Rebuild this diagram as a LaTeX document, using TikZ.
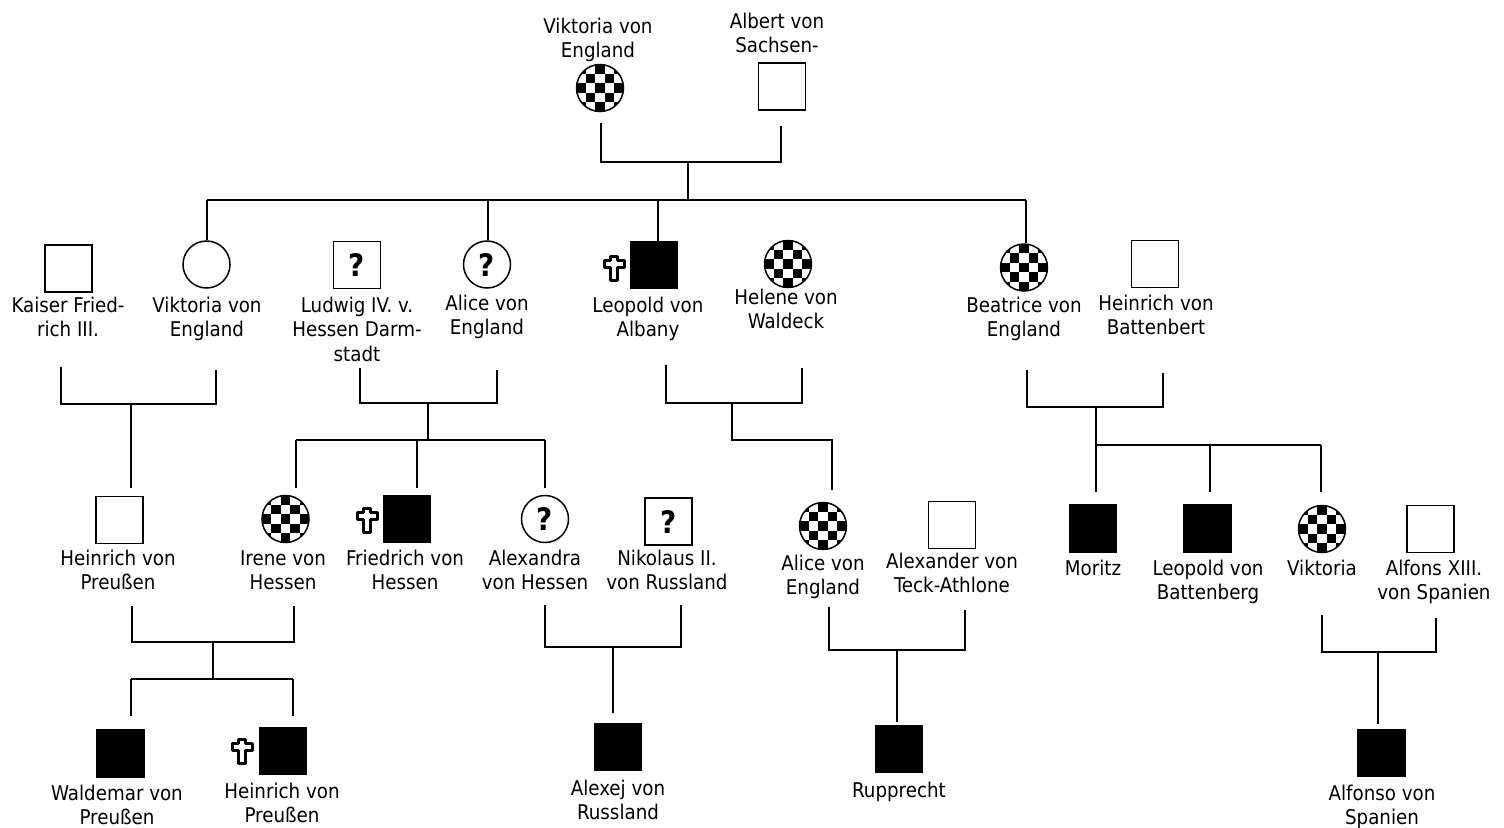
\documentclass[tikz,border=0pt]{standalone}
\usepackage{fontspec}
\setmainfont{DejaVu Sans Condensed}
\newcommand\nm[1]{\begin{tabular}[t]{@{}c@{}}#1\end{tabular}}
\begin{document}
\begin{tikzpicture}[x=1pt,y=-1pt,
  sym/.style={draw, line width=1.5pt, minimum size=47pt, inner sep=0pt},
  male/.style={sym, rectangle},
  female/.style={sym, circle},
  aff/.style={fill=black},
  unk/.style={font=\fontsize{31}{31}\selectfont\bfseries},
  carrier/.style={female, path picture={
    \foreach \i in {-2,...,2}{\foreach \j in {-2,...,2}{
      \pgfmathtruncatemacro\s{mod(\i+\j+10,2)}
      \ifnum\s=0
        \fill[black] ([shift={(\i*9.4pt-4.7pt,\j*9.4pt-4.7pt)}]path picture bounding box.center) rectangle +(9.4pt,9.4pt);
      \fi}}}},
  lbl/.style={anchor=base, inner sep=0pt, font=\fontsize{20.3}{24.5}\selectfont},
  ln/.style={line width=1.8pt},
  thinln/.style={line width=1.3pt},
  deathcross/.pic={\draw[line width=3pt, line join=round, fill=white]
     (-3.9,-12)--(3.9,-12)--(3.9,-7.6)--(10,-7.6)--(10,-0.8)--(3.9,-0.8)--(3.9,12)
     --(-3.9,12)--(-3.9,-0.8)--(-10,-0.8)--(-10,-7.6)--(-3.9,-7.6)--cycle;}
]
\useasboundingbox (0,0) rectangle (1504,827);
\fill[white] (0,0) rectangle (1504,827);

% ---- generation 0
\node[carrier] (vic) at (600,88) {};
\node[male] (alb) at (782,86.5) {};
\node[lbl] (vicT) at (598,33) {\nm{Viktoria von\\England}};
\node[lbl] (albT) at (777,28) {\nm{Albert von\\Sachsen-}};

% ---- generation 1
\node[male] (kai) at (68.5,268.5) {};
\node[female] (vik) at (206.5,264.5) {};
\node[male,unk] (lud) at (357,265) {?};
\node[female,unk] (ali) at (487,264.5) {?};
\node[male,aff] (leo) at (654,265) {};
\node[carrier] (hel) at (788,264) {};
\node[carrier] (bea) at (1024,267.5) {};
\node[male] (hei) at (1155,264) {};
\pic at (614,268) {deathcross};

\node[lbl] (kaiT) at (68,312) {\nm{Kaiser Fried-\\rich III.}};
\node[lbl] (vikT) at (207,312) {\nm{Viktoria von\\England}};
\node[lbl] (ludT) at (357,312) {\nm{Ludwig IV. v.\\Hessen Darm-\\stadt}};
\node[lbl] (aliT) at (487,310) {\nm{Alice von\\England}};
\node[lbl] (leoT) at (648,312) {\nm{Leopold von\\Albany}};
\node[lbl] (helT) at (786,304) {\nm{Helene von\\Waldeck}};
\node[lbl] (beaT) at (1024,312) {\nm{Beatrice von\\England}};
\node[lbl] (heiT) at (1156,310) {\nm{Heinrich von\\Battenbert}};

% ---- generation 2
\node[male] (hpr) at (119.5,520) {};
\node[carrier] (ire) at (285.5,519) {};
\node[male,aff] (fri) at (407,519) {};
\node[female,unk] (alx) at (545,519) {?};
\node[male,unk] (nik) at (668.5,521.5) {?};
\node[carrier] (alc) at (823,526) {};
\node[male] (atk) at (952,525) {};
\node[male,aff] (mor) at (1093,528.5) {};
\node[male,aff] (lpb) at (1207.5,528.5) {};
\node[carrier] (vkt) at (1322,529) {};
\node[male] (alf) at (1430.5,529) {};
\pic at (367,520) {deathcross};

\node[lbl] (hprT) at (118,565) {\nm{Heinrich von\\Preußen}};
\node[lbl] (ireT) at (283,565) {\nm{Irene von\\Hessen}};
\node[lbl] (friT) at (405,565) {\nm{Friedrich von\\Hessen}};
\node[lbl] (alxT) at (535,565) {\nm{Alexandra\\von Hessen}};
\node[lbl] (nikT) at (667,565) {\nm{Nikolaus II.\\von Russland}};
\node[lbl] (alcT) at (823,570) {\nm{Alice von\\England}};
\node[lbl] (atkT) at (952,568) {\nm{Alexander von\\Teck-Athlone}};
\node[lbl] (morT) at (1093,575) {\nm{Moritz}};
\node[lbl] (lpbT) at (1208,575) {\nm{Leopold von\\Battenberg}};
\node[lbl] (vktT) at (1322,575) {\nm{Viktoria}};
\node[lbl] (alfT) at (1434,575) {\nm{Alfons XIII.\\von Spanien}};

% ---- generation 3
\node[male,aff] (wal) at (120.5,753.5) {};
\node[male,aff] (hpb) at (283,751) {};
\node[male,aff] (axj) at (618,747) {};
\node[male,aff] (rup) at (899,749) {};
\node[male,aff] (afs) at (1381.5,753) {};
\pic at (242,751) {deathcross};

\node[lbl] (walT) at (117,800) {\nm{Waldemar von\\Preußen}};
\node[lbl] (hpbT) at (282,798) {\nm{Heinrich von\\Preußen}};
\node[lbl] (axjT) at (618,795) {\nm{Alexej von\\Russland}};
\node[lbl] (rupT) at (899,797) {\nm{Rupprecht}};
\node[lbl] (afsT) at (1382,800) {\nm{Alfonso von\\Spanien}};

% ---- connectors
% Viktoria + Albert
\coordinate (p0l) at (601,123); \coordinate (p0r) at (781,126);
\coordinate (p0b) at (781,162); \coordinate (p0m) at (688,162);
\coordinate (p0s) at (688,200);
\draw[ln] (p0l) |- (p0b) -- (p0r);
\draw[ln] (p0m) -- (p0s);
\coordinate (m1) at (207,200); \coordinate (m2) at (488,200);
\coordinate (m3) at (658,200); \coordinate (m4) at (1026,200);
\draw[ln] (m1) -- (m4);
\draw[ln] (m1) -- (m1 |- vik.north);
\draw[ln] (m2) -- (m2 |- ali.north);
\draw[ln] (m3) -- (m3 |- leo.north);
\draw[ln] (m4) -- (m4 |- bea.north);

% Kaiser + Viktoria
\coordinate (p1l) at (61,367); \coordinate (p1r) at (216,370);
\coordinate (p1b) at (216,404); \coordinate (p1m) at (131,404);
\coordinate (p1s) at (131,488);
\draw[ln] (p1l) |- (p1b) -- (p1r);
\draw[ln] (p1m) -- (p1s);

% Ludwig + Alice
\coordinate (p2l) at (360,368); \coordinate (p2r) at (497,370);
\coordinate (p2b) at (497,403); \coordinate (p2m) at (428,403);
\coordinate (p2s) at (428,440);
\coordinate (c2a) at (296,440); \coordinate (c2b) at (417,440); \coordinate (c2c) at (545,440);
\draw[ln] (p2l) |- (p2b) -- (p2r);
\draw[ln] (p2m) -- (p2s);
\draw[ln] (c2a) -- (c2c);
\draw[ln] (c2a) -- ++(0,48);
\draw[ln] (c2b) -- ++(0,48);
\draw[ln] (c2c) -- ++(0,48);

% Leopold + Helene
\coordinate (p3l) at (666,365); \coordinate (p3r) at (802,368);
\coordinate (p3b) at (802,403); \coordinate (p3m) at (732,403);
\coordinate (p3s) at (732,440); \coordinate (p3c) at (832,440);
\draw[ln] (p3l) |- (p3b) -- (p3r);
\draw[ln] (p3m) -- (p3s) -- (p3c) -- ++(0,50);

% Beatrice + Heinrich
\coordinate (p4l) at (1027,370); \coordinate (p4r) at (1163,373);
\coordinate (p4b) at (1163,407); \coordinate (p4m) at (1096,407);
\coordinate (c4a) at (1096,445); \coordinate (c4b) at (1210,445); \coordinate (c4c) at (1321,445);
\draw[ln] (p4l) |- (p4b) -- (p4r);
\draw[ln] (p4m) -- (c4a);
\draw[ln] (c4a) -- (c4c);
\draw[ln] (c4a) -- ++(0,47);
\draw[ln] (c4b) -- ++(0,47);
\draw[ln] (c4c) -- ++(0,47);

% Heinrich + Irene
\coordinate (p5l) at (132,606); \coordinate (p5r) at (294,606);
\coordinate (p5b) at (294,642); \coordinate (p5m) at (213,642);
\coordinate (p5s) at (213,679);
\coordinate (c5a) at (131,679); \coordinate (c5b) at (293,679);
\draw[ln] (p5l) |- (p5b) -- (p5r);
\draw[ln] (p5m) -- (p5s);
\draw[ln] (c5a) -- (c5b);
\draw[ln] (c5a) -- ++(0,37);
\draw[ln] (c5b) -- ++(0,37);

% Alexandra + Nikolaus
\coordinate (p6l) at (545,605); \coordinate (p6r) at (681,605);
\coordinate (p6b) at (681,647); \coordinate (p6m) at (613,647);
\draw[ln] (p6l) |- (p6b) -- (p6r);
\draw[thinln] (p6m) -- ++(0,66);

% Alice + Alexander
\coordinate (p7l) at (829,607); \coordinate (p7r) at (965,610);
\coordinate (p7b) at (965,650); \coordinate (p7m) at (897,650);
\draw[ln] (p7l) |- (p7b) -- (p7r);
\draw[thinln] (p7m) -- ++(0,72);

% Viktoria + Alfons
\coordinate (p8l) at (1322,615); \coordinate (p8r) at (1436,618);
\coordinate (p8b) at (1436,652); \coordinate (p8m) at (1378,652);
\draw[ln] (p8l) |- (p8b) -- (p8r);
\draw[thinln] (p8m) -- ++(0,72);
\end{tikzpicture}
\end{document}
